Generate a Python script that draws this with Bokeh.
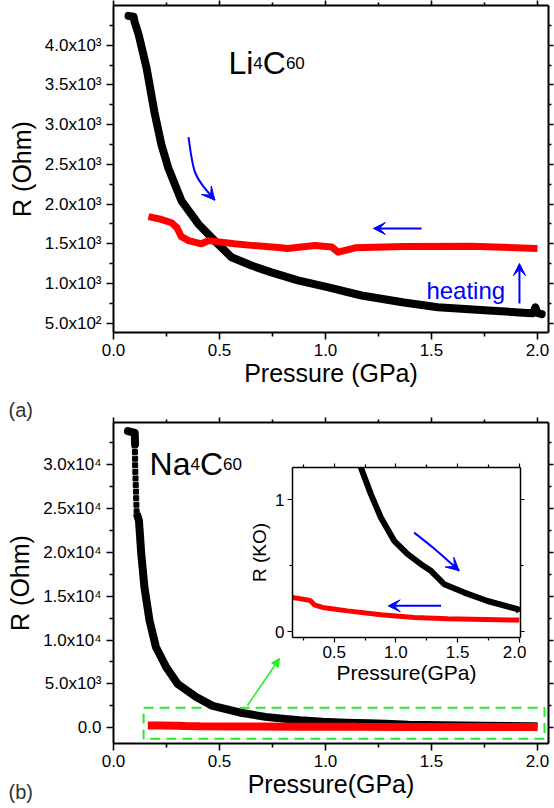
from bokeh.plotting import figure
from bokeh.models import (Range1d, LinearAxis, FixedTicker, Label, Arrow,
                          VeeHead, NormalHead)
from bokeh.layouts import column
from bokeh.embed import file_html
from bokeh.resources import INLINE

FONT = "Liberation Sans"

# ---------------- data ----------------
# (a) Li4C60, resistance (Ohm) vs pressure (GPa)
li_black_p = [0.071, 0.095, 0.099, 0.118, 0.156, 0.193, 0.226, 0.259, 0.321,
              0.400, 0.430, 0.486, 0.557, 0.651, 0.745, 0.870, 1.014, 1.170, 1.370,
              1.530, 1.770, 1.950, 1.980, 1.990, 2.000, 2.020]
li_black_r = [4370, 4360, 4300, 4140, 3714, 3159, 2750, 2450, 2040,
              1750, 1667, 1515, 1330, 1226, 1140, 1040, 950, 849, 760,
              700, 660, 630, 625, 700, 630, 615]
li_red_p = [0.165, 0.220, 0.274, 0.300, 0.320, 0.354, 0.415, 0.448, 0.570, 0.650,
            0.790, 0.820, 0.950, 1.030, 1.060, 1.140, 1.370, 1.690, 2.000]
li_red_r = [1843, 1810, 1765, 1700, 1590, 1540, 1500, 1540, 1500, 1480,
            1450, 1440, 1478, 1460, 1394, 1450, 1466, 1470, 1440]

# (b) Na4C60, resistance (Ohm) vs pressure (GPa)
na_black_p = [0.068, 0.100, 0.102, 0.110, 0.120, 0.131, 0.146, 0.170, 0.200, 0.249,
              0.303, 0.390, 0.468, 0.594, 0.716, 0.797, 0.878, 0.986, 1.095, 1.203,
              1.284, 1.392, 1.554, 1.743, 1.987, 2.000]
na_black_r = [33800, 33600, 32300, 24400, 23600, 19800, 16000, 12200, 9200, 6900,
              5000, 3500, 2500, 1750, 1245, 1043, 866, 689, 588, 511,
              461, 359, 296, 232, 170, 150]
na_sparse_p = [0.100, 0.101, 0.102, 0.102, 0.103, 0.104, 0.105, 0.106, 0.107, 0.108, 0.109]
na_sparse_r = [32150, 31400, 30650, 29900, 29150, 28400, 27650, 26900, 26150, 25400, 24650]
na_red_p = [0.162, 0.220, 0.297, 0.310, 0.330, 0.338, 0.405, 0.608, 0.878, 1.149, 1.419, 2.000]
na_red_r = [258, 250, 238, 232, 212, 203, 183, 157, 127, 107, 97, 87]

# ticks
x_ticks = [0.0, 0.5, 1.0, 1.5, 2.0]
x_tick_labels = ["0.0", "0.5", "1.0", "1.5", "2.0"]
x_minor = [0.25, 0.75, 1.25, 1.75]
li_y_ticks = [500, 1000, 1500, 2000, 2500, 3000, 3500, 4000]
li_y_labels = ["5.0x10²", "1.0x10³", "1.5x10³", "2.0x10³", "2.5x10³", "3.0x10³", "3.5x10³", "4.0x10³"]
li_y_minor = [750, 1250, 1750, 2250, 2750, 3250, 3750, 4250]
na_y_ticks = [0, 5000, 10000, 15000, 20000, 25000, 30000]
na_y_labels = ["0.0", "5.0x10³", "1.0x10⁴", "1.5x10⁴", "2.0x10⁴", "2.5x10⁴", "3.0x10⁴"]
na_y_minor = [-2500, 2500, 7500, 12500, 17500, 22500, 27500, 32500]
in_x_ticks = [0.5, 1.0, 1.5, 2.0]
in_x_labels = ["0.5", "1.0", "1.5", "2.0"]
in_x_minor = [0.25, 0.75, 1.25, 1.75]
in_y_ticks = [0, 1]
in_y_labels = ["0", "1"]
in_y_minor = [0.5]

# annotations (data coordinates)
li_curve_arrow = [0.354, 2843, 0.377, 2365, 0.478, 2050]   # start, control, end
li_left_arrow = [1.453, 1693, 1.226, 1693]
li_up_arrow = [1.915, 748, 1.915, 1252]
li_heating_pos = [1.476, 912]
li_name_pos = [0.542, 3771]
na_name_pos = [0.170, 30100]
na_box_p = [0.142, 2.033]
na_box_r = [-1253, 2278]
na_green_arrow = [0.632, 2540, 0.783, 7890]
in_curve_arrow = [1.148, 0.751, 1.30, 0.64, 1.513, 0.461]
in_left_arrow = [1.366, 0.195, 0.938, 0.195]
panel_tags = ["(a)", "(b)"]

BORDER_L = 113   # shared left border (column aligns plot frames)
BORDER_R = 6
TAG = 40         # size of the small frame that holds a panel tag


def tick(ticks, minor):
    return FixedTicker(ticks=ticks, minor_ticks=minor)


def style_axis(ax, tick_fs, label_fs, lw, tout, mout, lstand, astand):
    ax.axis_line_width = lw
    ax.major_tick_line_width = lw * 0.8
    ax.minor_tick_line_width = lw * 0.8
    ax.major_tick_out = tout
    ax.major_tick_in = 0
    ax.minor_tick_out = mout
    ax.minor_tick_in = 0
    ax.major_label_text_font = FONT
    ax.major_label_text_font_size = tick_fs
    ax.major_label_text_color = "black"
    ax.axis_label_text_font = FONT
    ax.axis_label_text_font_size = label_fs
    ax.axis_label_text_font_style = "normal"
    ax.axis_label_text_color = "black"
    ax.major_label_standoff = lstand
    ax.axis_label_standoff = astand


def add_mirrors(p, xt, xm, yt, ym, lw, tout, mout):
    for loc, t, m in (("above", xt, xm), ("right", yt, ym)):
        ax = LinearAxis(ticker=tick(t, m), axis_label=None)
        ax.major_label_overrides = {v: "" for v in t}
        ax.major_label_text_font_size = "1px"
        ax.major_label_standoff = 0
        ax.axis_line_width = lw
        ax.major_tick_line_width = lw * 0.8
        ax.minor_tick_line_width = lw * 0.8
        ax.major_tick_out = tout
        ax.major_tick_in = 0
        ax.minor_tick_out = mout
        ax.minor_tick_in = 0
        p.add_layout(ax, loc)


def make_main(height, bt, bb, xr, yr, yt, ylab, ym, xlabel):
    p = figure(width=554, height=height, x_range=xr, y_range=yr,
               min_border_left=BORDER_L, min_border_right=BORDER_R,
               min_border_top=bt, min_border_bottom=bb,
               output_backend="svg", toolbar_location=None)
    p.grid.visible = False
    p.outline_line_color = None
    p.xaxis.ticker = tick(x_ticks, x_minor)
    p.xaxis.major_label_overrides = dict(zip(x_ticks, x_tick_labels))
    p.yaxis.ticker = tick(yt, ym)
    p.yaxis.major_label_overrides = dict(zip(yt, ylab))
    p.xaxis.axis_label = xlabel
    p.yaxis.axis_label = "R (Ohm)"
    for ax in p.xaxis:
        style_axis(ax, "17px", "25px", 2, 7, 4, 4, 0)
    for ax in p.yaxis:
        style_axis(ax, "17px", "25px", 2, 7, 4, 5, 6)
    add_mirrors(p, x_ticks, x_minor, yt, ym, 2, 5, 3)
    return p


def formula(p, pos, parts):
    for txt, fs, off in parts:
        p.add_layout(Label(x=pos[0], y=pos[1], text=txt, x_offset=off,
                           text_font=FONT, text_font_size=fs, text_color="black",
                           text_baseline="alphabetic"))


def bent_arrow(p, c, lw, color, size):
    p.bezier(x0=[c[0]], y0=[c[1]], x1=[c[4]], y1=[c[5]], cx0=[c[2]], cy0=[c[3]],
             cx1=[c[2]], cy1=[c[3]], line_color=color, line_width=lw)
    fx = c[4] - (c[4] - c[2]) * 0.08
    fy = c[5] - (c[5] - c[3]) * 0.08
    p.add_layout(Arrow(x_start=fx, y_start=fy, x_end=c[4], y_end=c[5], line_color=color,
                       line_width=lw, end=VeeHead(size=size, fill_color=color, line_color=color)))


def straight_arrow(p, c, lw, color, size, head=VeeHead):
    p.add_layout(Arrow(x_start=c[0], y_start=c[1], x_end=c[2], y_end=c[3], line_color=color,
                       line_width=lw, end=head(size=size, fill_color=color, line_color=color)))


def tag_figure(text, top, base):
    # small transparent canvas whose frame holds a panel tag such as "(a)"
    t = figure(width=BORDER_L + TAG + BORDER_R, height=TAG, x_range=Range1d(0, TAG), y_range=Range1d(0, TAG),
               min_border_left=BORDER_L, min_border_right=BORDER_R, min_border_top=0, min_border_bottom=0,
               x_axis_type=None, y_axis_type=None,
               output_backend="svg", toolbar_location=None,
               background_fill_alpha=0, border_fill_alpha=0)
    t.grid.visible = False
    t.outline_line_color = None
    t.add_layout(Label(x=0, y=base, text=text, text_font=FONT, text_font_size="20px",
                       text_color="#333333", text_baseline="alphabetic"))
    t.margin = (top, 0, 0, 8 - BORDER_L)
    return t


# ---------------- (a) Li4C60 ----------------
p1 = make_main(416, 5, 84, Range1d(0, 2.052), Range1d(383, 4501),
               li_y_ticks, li_y_labels, li_y_minor, "Pressure (GPa)")
p1.line(li_black_p, li_black_r, line_color="black", line_width=8, line_join="round", line_cap="round")
p1.line(li_red_p, li_red_r, line_color="#ff0000", line_width=7, line_join="round")
bent_arrow(p1, li_curve_arrow, 2, "#0000ff", 13)
straight_arrow(p1, li_left_arrow, 2, "#0000ff", 12)
straight_arrow(p1, li_up_arrow, 2, "#0000ff", 12)
p1.add_layout(Label(x=li_heating_pos[0], y=li_heating_pos[1], text="heating", text_font=FONT,
                    text_font_size="24px", text_color="#0000ff", text_baseline="alphabetic"))
formula(p1, li_name_pos, [("Li", "32px", 0), ("4", "17px", 24.9), ("C", "32px", 34.4), ("60", "17px", 57.5)])

# ---------------- (b) Na4C60 ----------------
p2 = make_main(392, 6, 65, Range1d(0, 2.052), Range1d(-1788, 34772),
               na_y_ticks, na_y_labels, na_y_minor, "Pressure(GPa)")
p2.quad(left=[na_box_p[0]], right=[na_box_p[1]], bottom=[na_box_r[0]], top=[na_box_r[1]],
        fill_alpha=0, line_color="#22ee22", line_width=2, line_dash="10 6")
p2.line(na_black_p[:3], na_black_r[:3], line_color="black", line_width=8, line_join="round", line_cap="round")
p2.line(na_black_p[3:], na_black_r[3:], line_color="black", line_width=8, line_join="round")
p2.scatter(na_sparse_p, na_sparse_r, marker="square", size=5, color="black")
p2.line(na_red_p, na_red_r, line_color="#ff0000", line_width=8)
straight_arrow(p2, na_green_arrow, 1.5, "#22ee22", 8, NormalHead)
formula(p2, na_name_pos, [("Na", "32px", 0), ("4", "17px", 40.9), ("C", "32px", 50.4), ("60", "17px", 73.5)])

# ---------------- inset ----------------
INSET_LEFT = 292 - BORDER_L
pi = figure(width=526 - INSET_LEFT, height=228, x_range=Range1d(0.162, 2.01), y_range=Range1d(-0.045, 1.245),
            min_border_left=BORDER_L, min_border_right=BORDER_R, min_border_top=6, min_border_bottom=52,
            output_backend="svg", toolbar_location=None, background_fill_color="white",
            border_fill_alpha=0)
pi.grid.visible = False
pi.outline_line_color = None
pi.xaxis.ticker = tick(in_x_ticks, in_x_minor)
pi.xaxis.major_label_overrides = dict(zip(in_x_ticks, in_x_labels))
pi.yaxis.ticker = tick(in_y_ticks, in_y_minor)
pi.yaxis.major_label_overrides = dict(zip(in_y_ticks, in_y_labels))
pi.xaxis.axis_label = "Pressure(GPa)"
pi.yaxis.axis_label = "R (KO)"
for ax in pi.xaxis:
    style_axis(ax, "17px", "21px", 1.5, 5, 3, 3, 0)
for ax in pi.yaxis:
    style_axis(ax, "17px", "19px", 1.5, 5, 3, 3, 2)
add_mirrors(pi, in_x_ticks, in_x_minor, in_y_ticks, in_y_minor, 1.5, 4, 3)
pi.line(na_black_p, [v / 1000 for v in na_black_r], line_color="black", line_width=6)
pi.line(na_red_p, [v / 1000 for v in na_red_r], line_color="#ff0000", line_width=5)
bent_arrow(pi, in_curve_arrow, 2, "#0000ff", 13)
straight_arrow(pi, in_left_arrow, 2, "#0000ff", 12)
# place the inset over panel (b): pulled up by a negative top margin
pi.margin = (-(392 - 45), 0, 0, INSET_LEFT)

# inset bottom at 689; tag (a) frame at 385-425, tag (b) frame at 768-808
tag_a = tag_figure(panel_tags[0], -304, 16)
tag_b = tag_figure(panel_tags[1], 343, 17)

page = column(p1, p2, pi, tag_a, tag_b)

open("out.html", "w").write(file_html(page, INLINE))
